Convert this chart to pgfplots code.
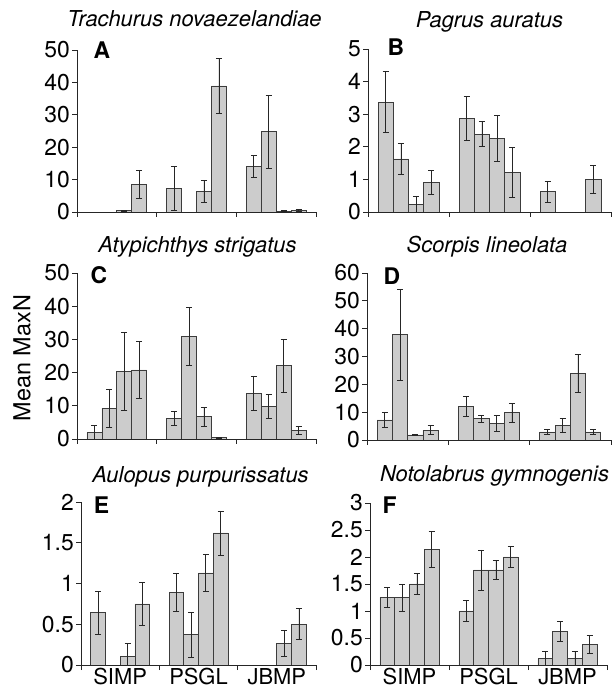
\documentclass[border=0pt]{standalone}
\usepackage{fontspec}
\setmainfont{TeX Gyre Heros}
\usepackage{pgfplots}
\pgfplotsset{compat=1.18}

\definecolor{barfill}{RGB}{204,204,204}
\definecolor{bardraw}{RGB}{60,60,60}
\newcommand{\fs}[1]{\fontsize{#1}{#1}\selectfont}

% group g occupies [16g,16g+16]; bars sit at 16g+3.5, 6.5, 9.5, 12.5
\pgfplotsset{
  panel/.style={
    scale only axis, anchor=south west,
    xmin=0, xmax=48, ymin=0,
    axis x line*=bottom, axis y line*=left,
    axis line style={line width=0.8bp, black!85},
    xtick={0,16,32,48}, xticklabels={},
    tick align=outside, major tick length=5bp,
    tick style={line width=0.8bp, black!85},
    yticklabel style={font=\fs{23}, inner sep=2bp},
    /pgf/number format/assume math mode=true,
  },
  sites/.style={
    extra x ticks={8,24,40}, extra x tick labels={SIMP,PSGL,JBMP},
    extra x tick style={major tick length=0pt,
      xticklabel style={font=\fs{22}, anchor=base, inner sep=0pt,
        text depth=0pt, yshift=-19bp}},
  },
  bars/.style={
    ybar, bar width=3, fill=barfill, draw=bardraw, line width=0.7bp,
    error bars/.cd, y dir=both, y explicit,
    error bar style={line width=0.7bp, black!85},
    error mark options={rotate=90, line width=0.7bp, black!85, mark size=3bp},
  },
}

\begin{document}
\begin{tikzpicture}
\useasboundingbox (0,0) rectangle (612bp,688bp);

% A
\begin{axis}[panel, name=A, at={(77bp,476bp)}, width=239bp, height=162bp,
  ymax=50, ytick={0,10,...,50}]
\addplot[bars] coordinates {
  (9.5,0.4) +- (0,0.2) (12.5,8.6) +- (0,4.3)
  (19.5,7.3) +- (0,6.8) (25.5,6.4) +- (0,3.3) (28.5,38.9) +- (0,8.6)
  (35.5,14.1) +- (0,3.3) (38.5,24.8) +- (0,11.3) (41.5,0.3) +- (0,0.2) (44.5,0.5) +- (0,0.4)
};
\end{axis}

% B
\begin{axis}[panel, name=B, at={(368bp,476bp)}, width=243bp, height=163bp,
  ymax=5, ytick={0,1,...,5}]
\addplot[bars] coordinates {
  (3.5,3.37) +- (0,0.94) (6.5,1.63) +- (0,0.47) (9.5,0.24) +- (0,0.25) (12.5,0.91) +- (0,0.37)
  (19.5,2.88) +- (0,0.67) (22.5,2.39) +- (0,0.38) (25.5,2.25) +- (0,0.70) (28.5,1.22) +- (0,0.76)
  (35.5,0.63) +- (0,0.32) (44.5,1.00) +- (0,0.43)
};
\end{axis}

% C
\begin{axis}[panel, name=C, at={(77bp,249bp)}, width=239bp, height=166bp,
  ymax=50, ytick={0,10,...,50}]
\addplot[bars] coordinates {
  (3.5,1.9) +- (0,2.1) (6.5,9.3) +- (0,5.8) (9.5,20.3) +- (0,11.8) (12.5,20.8) +- (0,8.6)
  (19.5,6.2) +- (0,2.2) (22.5,30.9) +- (0,8.8) (25.5,6.7) +- (0,2.8) (28.5,0.4) +- (0,0.1)
  (35.5,13.8) +- (0,5.2) (38.5,9.8) +- (0,3.5) (41.5,22.1) +- (0,8.0) (44.5,2.6) +- (0,1.3)
};
\end{axis}

% D
\begin{axis}[panel, name=D, at={(367bp,248bp)}, width=244bp, height=167bp,
  ymax=60, ytick={0,10,...,60}]
\addplot[bars] coordinates {
  (3.5,7.2) +- (0,2.6) (6.5,37.8) +- (0,16.5) (9.5,1.8) +- (0,0.2) (12.5,3.5) +- (0,1.6)
  (19.5,12.0) +- (0,3.6) (22.5,7.6) +- (0,1.2) (25.5,6.0) +- (0,2.9) (28.5,9.8) +- (0,3.3)
  (35.5,2.9) +- (0,1.0) (38.5,5.3) +- (0,2.5) (41.5,24.0) +- (0,6.8) (44.5,2.9) +- (0,1.0)
};
\end{axis}

% E
\begin{axis}[panel, sites, name=E, at={(81bp,23bp)}, width=235bp, height=163bp,
  ymax=2, ytick={0,0.5,1,1.5,2}]
\addplot[bars] coordinates {
  (3.5,0.64) +- (0,0.26) (9.5,0.11) +- (0,0.15) (12.5,0.75) +- (0,0.26)
  (19.5,0.89) +- (0,0.23) (22.5,0.37) +- (0,0.28) (25.5,1.13) +- (0,0.23) (28.5,1.62) +- (0,0.27)
  (41.5,0.26) +- (0,0.16) (44.5,0.50) +- (0,0.19)
};
\end{axis}

% F
\begin{axis}[panel, sites, name=F, at={(370bp,23bp)}, width=237bp, height=162bp,
  ymax=3, ytick={0,0.5,...,3}]
\addplot[bars] coordinates {
  (3.5,1.25) +- (0,0.19) (6.5,1.25) +- (0,0.25) (9.5,1.50) +- (0,0.19) (12.5,2.14) +- (0,0.34)
  (19.5,1.00) +- (0,0.19) (22.5,1.76) +- (0,0.37) (25.5,1.76) +- (0,0.18) (28.5,2.00) +- (0,0.19)
  (35.5,0.12) +- (0,0.13) (38.5,0.62) +- (0,0.19) (41.5,0.12) +- (0,0.13) (44.5,0.38) +- (0,0.17)
};
\end{axis}

% titles and panel letters
\begin{scope}[every node/.style={font=\fs{22}\itshape, anchor=base}]
\node at ([xshift=-2bp,yshift=23bp]A.north) {Trachurus novaezelandiae};
\node at ([yshift=21bp]B.north) {Pagrus auratus};
\node at ([xshift=1bp,yshift=20bp]C.north) {Atypichthys strigatus};
\node at ([xshift=-2bp,yshift=20bp]D.north) {Scorpis lineolata};
\node at ([xshift=2bp,yshift=19bp]E.north) {Aulopus purpurissatus};
\node at ([xshift=6bp,yshift=21bp]F.north) {Notolabrus gymnogenis};
\end{scope}
\begin{scope}[every node/.style={font=\fs{23}\bfseries, anchor=center}]
\node at ([xshift=25bp,yshift=0bp]A.north west) {A};
\node at ([xshift=28bp,yshift=1.5bp]B.north west) {B};
\node at ([xshift=22bp,yshift=-2bp]C.north west) {C};
\node at ([xshift=25bp,yshift=-3.5bp]D.north west) {D};
\node at ([xshift=20.5bp,yshift=-3bp]E.north west) {E};
\node at ([xshift=19.5bp,yshift=-2bp]F.north west) {F};
\end{scope}

\node[rotate=90, font=\fs{23.5}] at (22bp,330bp) {Mean MaxN};
\end{tikzpicture}
\end{document}
